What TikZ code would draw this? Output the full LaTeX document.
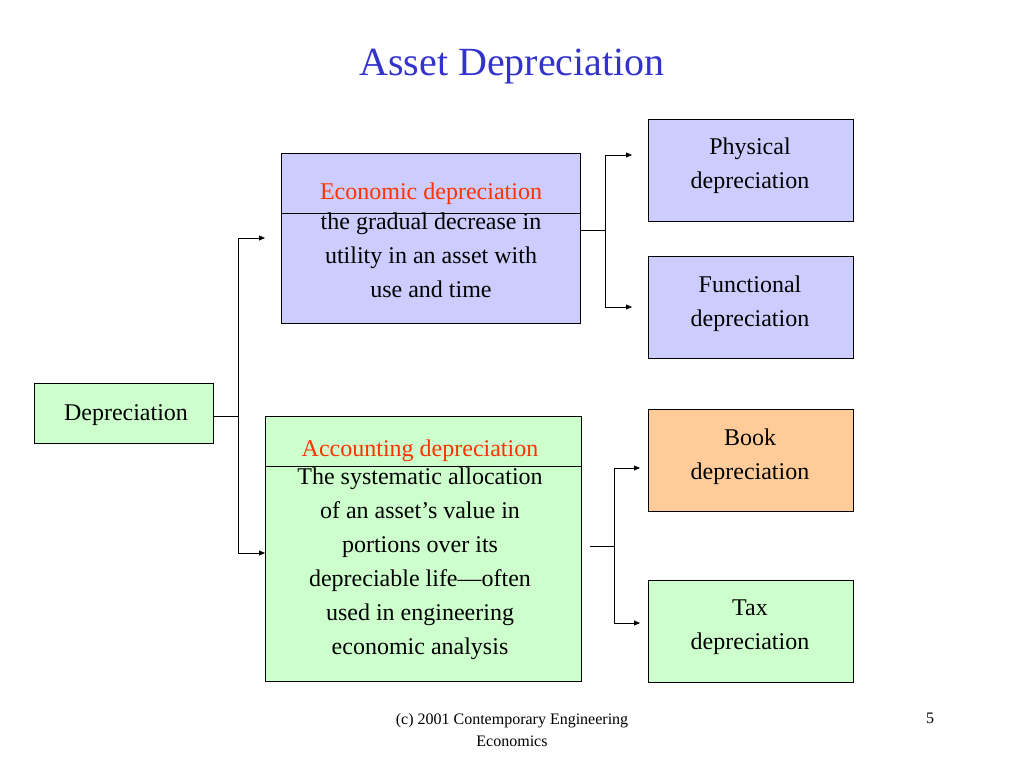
\documentclass[tikz,border=0pt]{standalone}
\usepackage{fontspec}
\setmainfont{Liberation Serif}
\usetikzlibrary{arrows.meta}
\definecolor{lavender}{RGB}{204,204,255}
\definecolor{mint}{RGB}{204,255,204}
\definecolor{peach}{RGB}{255,204,153}
\definecolor{titleblue}{RGB}{51,51,204}
\definecolor{headred}{RGB}{255,51,0}
\tikzset{
  box/.style={draw, thin, anchor=north west, inner sep=0pt},
  body/.style={font=\fontsize{24}{34}\selectfont, align=center, inner sep=0pt},
  conn/.style={thin},
  arr/.style={thin, -{Triangle[length=6pt,width=5pt]}}
}
\begin{document}
\begin{tikzpicture}[x=1pt,y=-1pt]
\useasboundingbox (0,0) rectangle (1024,768);

%Titel
\node[font=\fontsize{40}{44}\selectfont, text=titleblue] (title) at (512,67) {Asset Depreciation};

%Kasten
\node[box, fill=mint, minimum width=179pt, minimum height=60pt] (dep) at (34,383) {};
\node[box, fill=lavender, minimum width=299pt, minimum height=170pt] (econ) at (281,153) {};
\node[box, fill=mint, minimum width=316pt, minimum height=265pt] (acc) at (265,416) {};
\node[box, fill=lavender, minimum width=205pt, minimum height=102pt] (phys) at (648,119) {};
\node[box, fill=lavender, minimum width=205pt, minimum height=102pt] (func) at (648,256) {};
\node[box, fill=peach, minimum width=205pt, minimum height=102pt] (book) at (648,409) {};
\node[box, fill=mint, minimum width=205pt, minimum height=102pt] (tax) at (648,580) {};

%Trennlinien
\draw (281,213) -- (580,213);
\draw (265,466) -- (581,466);

%Texte
\node[body] (deptext) at (126,415) {Depreciation};
\node[body, text=headred] (econhead) at (431,194) {Economic depreciation};
\node[body, anchor=north] (econbody) at (431,213) {the gradual decrease in\\utility in an asset with\\use and time};
\node[body, text=headred] (acchead) at (420,451) {Accounting depreciation};
\node[body, anchor=north] (accbody) at (420,468) {The systematic allocation\\of an asset’s value in\\portions over its\\depreciable life—often\\used in engineering\\economic analysis};
\node[body, anchor=north] (phystext) at (750,138) {Physical\\depreciation};
\node[body, anchor=north] (functext) at (750,276) {Functional\\depreciation};
\node[body, anchor=north] (booktext) at (750,429) {Book\\depreciation};
\node[body, anchor=north] (taxtext) at (750,600) {Tax\\depreciation};

%Verbindungen
\coordinate (j1) at (238,416);
\coordinate (j2) at (605,230);
\coordinate (j3) at (614,546);
\draw[conn] (dep.east |- j1) -- (j1);
\draw[conn] (238,238) -- (238,553);
\draw[arr] (238,238) -- (265,238);
\draw[arr] (238,553) -- (265,553);
\draw[conn] (580,230) -- (j2);
\draw[conn] (605,155) -- (605,307);
\draw[arr] (605,155) -- (632,155);
\draw[arr] (605,307) -- (632,307);
\draw[conn] (590,546) -- (j3);
\draw[conn] (614,468) -- (614,623);
\draw[arr] (614,468) -- (640,468);
\draw[arr] (614,623) -- (640,623);

%Fusszeile
\node[font=\fontsize{16}{22}\selectfont, align=center] (foot) at (512,730) {(c) 2001 Contemporary Engineering\\Economics};
\node[font=\fontsize{16}{22}\selectfont] (page) at (930,718) {5};
\end{tikzpicture}
\end{document}
